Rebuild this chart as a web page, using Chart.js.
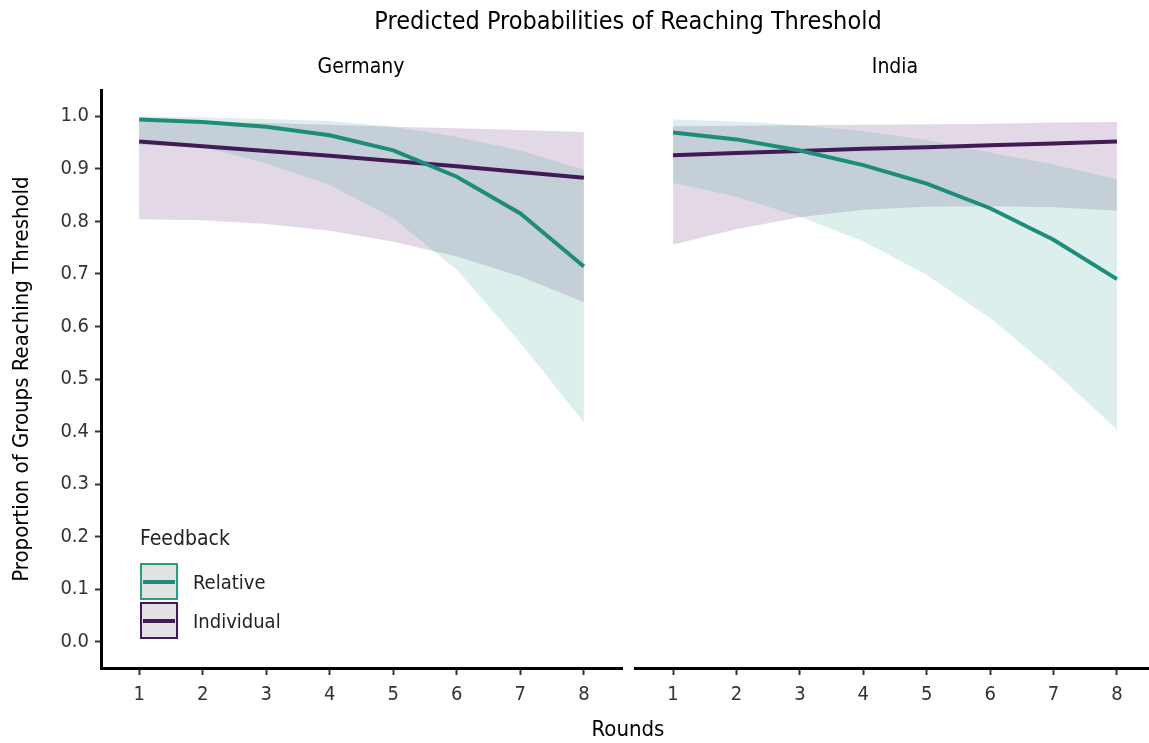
<!DOCTYPE html>
<html>
<head>
<meta charset="utf-8">
<script src="https://cdn.jsdelivr.net/npm/chart.js@4/dist/chart.umd.min.js"></script>
<style>
  body { margin: 0; background: #fff; font-family: "Liberation Sans Narrow", "DejaVu Sans Condensed", sans-serif; }
  #wrap { position: relative; width: 1149px; height: 743px; overflow: hidden; }
  canvas { position: absolute; top: 0; }
  .txt { position: absolute; white-space: nowrap; color: #000; transform: translateX(-50%); }
  #legend { position: absolute; left: 140px; top: 526px; color: #222; }
  .key { display: flex; align-items: center; height: 39px; }
  .box { width: 34px; height: 33px; background: #e2e2e2; border: 2px solid; display: flex; align-items: center; justify-content: center; }
  .box span { display: block; width: 32px; height: 4px; }
  .key label { margin-left: 15px; font-size: 20px; }
</style>
</head>
<body>
<div id="wrap">
  <canvas id="germanyChart" width="630" height="743" style="left:0"></canvas>
  <canvas id="indiaChart" width="530" height="743" style="left:630px"></canvas>
  <div class="txt" style="left:628px; top:6px; font-size:25px;">Predicted Probabilities of Reaching Threshold</div>
  <div class="txt" style="left:361px; top:54px; font-size:21px;">Germany</div>
  <div class="txt" style="left:895px; top:54px; font-size:21px;">India</div>
  <div class="txt" style="left:628px; top:716px; font-size:22px;">Rounds</div>
  <div id="legend">
    <div style="font-size:21px; margin-bottom:12px;">Feedback</div>
    <div class="key"><div class="box" style="border-color:#2a9c86"><span style="background:#1e8c7a"></span></div><label>Relative</label></div>
    <div class="key"><div class="box" style="border-color:#46175c"><span style="background:#421a58"></span></div><label>Individual</label></div>
  </div>
</div>
<script>
const rounds = [1, 2, 3, 4, 5, 6, 7, 8];
const yTicks = [0, 0.1, 0.2, 0.3, 0.4, 0.5, 0.6, 0.7, 0.8, 0.9, 1.0];

const germanyRelative = [0.994, 0.989, 0.980, 0.964, 0.935, 0.885, 0.815, 0.714];
const germanyRelLow = [0.945, 0.942, 0.910, 0.869, 0.806, 0.708, 0.569, 0.417];
const germanyRelHigh = [0.9995, 0.998, 0.995, 0.991, 0.980, 0.961, 0.935, 0.898];
const germanyIndividual = [0.952, 0.943, 0.934, 0.925, 0.915, 0.905, 0.894, 0.883];
const germanyIndLow = [0.804, 0.802, 0.795, 0.782, 0.761, 0.733, 0.695, 0.646];
const germanyIndHigh = [0.990, 0.989, 0.987, 0.984, 0.980, 0.977, 0.974, 0.970];

const indiaRelative = [0.969, 0.956, 0.935, 0.907, 0.872, 0.825, 0.765, 0.690];
const indiaRelLow = [0.873, 0.847, 0.809, 0.762, 0.698, 0.616, 0.515, 0.404];
const indiaRelHigh = [0.994, 0.990, 0.983, 0.972, 0.955, 0.931, 0.908, 0.880];
const indiaIndividual = [0.926, 0.930, 0.934, 0.938, 0.941, 0.945, 0.948, 0.952];
const indiaIndLow = [0.756, 0.785, 0.808, 0.822, 0.828, 0.829, 0.827, 0.820];
const indiaIndHigh = [0.981, 0.982, 0.983, 0.984, 0.985, 0.986, 0.988, 0.989];

const teal = "#1e8c7a";
const purple = "#421a58";
const tealFill = "rgba(30, 150, 128, 0.15)";
const purpleFill = "rgba(68, 1, 84, 0.15)";
const font = "'Liberation Sans Narrow', 'DejaVu Sans Condensed', sans-serif";

const pts = (vals) => vals.map((v, i) => ({ x: rounds[i], y: v }));

function band(high, low, color) {
  return [
    { data: pts(high), fill: "+1", backgroundColor: color, borderWidth: 0, borderColor: "transparent", pointRadius: 0 },
    { data: pts(low), fill: false, borderWidth: 0, borderColor: "transparent", pointRadius: 0 },
  ];
}

function line(vals, color) {
  return { data: pts(vals), fill: false, borderColor: color, borderWidth: 4, pointRadius: 0, borderCapStyle: "butt" };
}

function makeChart(id, sets, showY, pad) {
  new Chart(document.getElementById(id), {
    type: "line",
    data: {
      datasets: [
        ...band(sets.relHigh, sets.relLow, tealFill),
        ...band(sets.indHigh, sets.indLow, purpleFill),
        line(sets.rel, teal),
        line(sets.ind, purple),
      ],
    },
    options: {
      responsive: false,
      animation: false,
      layout: { padding: pad },
      plugins: {
        legend: { display: false },
        tooltip: { enabled: false },
        filler: { drawTime: "beforeDatasetsDraw" },
      },
      scales: {
        x: {
          type: "linear", min: 0.4, max: 8.6,
          afterBuildTicks: (s) => { s.ticks = rounds.map((v) => ({ value: v })); },
          afterFit: (s) => { s.height = 75; },
          ticks: { color: "#333", font: { family: font, size: 20 }, padding: 8 },
          grid: { drawOnChartArea: false, tickLength: 7, tickWidth: 2, tickColor: "#333" },
          border: { color: "#000", width: 3 },
        },
        y: {
          display: showY,
          min: -0.05, max: 1.05,
          afterBuildTicks: (s) => { s.ticks = yTicks.map((v) => ({ value: v })); },
          afterFit: (s) => { s.width = showY ? 101 : 0; },
          ticks: { color: "#333", font: { family: font, size: 20 }, padding: 6, callback: (v) => v.toFixed(1) },
          grid: { drawOnChartArea: false, tickLength: 6, tickWidth: 2, tickColor: "#333" },
          border: { color: "#000", width: 3 },
          title: { display: true, text: "Proportion of Groups Reaching Threshold", color: "#000", font: { family: font, size: 22 }, padding: { top: 9, bottom: 0 } },
        },
      },
    },
  });
}

makeChart("germanyChart", {
  rel: germanyRelative, relLow: germanyRelLow, relHigh: germanyRelHigh,
  ind: germanyIndividual, indLow: germanyIndLow, indHigh: germanyIndHigh,
}, true, { top: 90, right: 8, left: 0, bottom: 0 });

makeChart("indiaChart", {
  rel: indiaRelative, relLow: indiaRelLow, relHigh: indiaRelHigh,
  ind: indiaIndividual, indLow: indiaIndLow, indHigh: indiaIndHigh,
}, false, { top: 90, right: 5, left: 5, bottom: 0 });
</script>
</body>
</html>
